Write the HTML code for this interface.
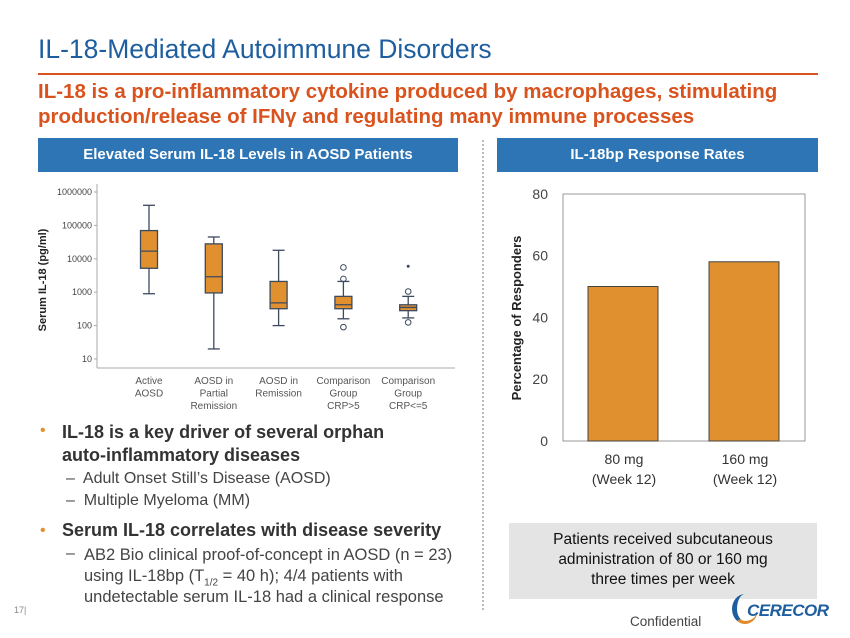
<!DOCTYPE html>
<html><head><meta charset="utf-8"><style>
body{margin:0;width:850px;height:638px;background:#fff;font-family:"Liberation Sans",sans-serif;position:relative;overflow:hidden}
.a{position:absolute}
.hdr{position:absolute;background:#2e75b6;color:#fff;font-weight:bold;font-size:15px;text-align:center;line-height:34px;top:138px;height:34px}
.ln{position:absolute;white-space:nowrap}
</style></head><body>
<div class="a" style="left:38px;top:34px;font-size:26.5px;color:#1f5e9e">IL-18-Mediated Autoimmune Disorders</div>
<div class="a" style="left:38px;top:73px;width:780px;height:2px;background:#d9531e"></div>
<div class="a" style="left:38px;top:79px;width:800px;font-size:20.5px;line-height:25px;font-weight:bold;color:#d9531e;white-space:nowrap">IL-18 is a pro-inflammatory cytokine produced by macrophages, stimulating<br>production/release of IFNγ and regulating many immune processes</div>
<div class="hdr" style="left:38px;width:420px">Elevated Serum IL-18 Levels in AOSD Patients</div>
<div class="hdr" style="left:497px;width:321px">IL-18bp Response Rates</div>
<div class="a" style="left:482px;top:140px;height:470px;border-left:2px dotted #bbb"></div>

<svg class="a" style="left:0;top:0" width="850" height="638">
<g id="box"></g>
<g id="bar"></g>
</svg>

<div class="a" style="left:0;top:0;width:480px;height:638px">
<div class="ln" style="left:40px;top:422px;color:#e0902e;font-size:16px">•</div>
<div class="ln" style="left:62px;top:421px;font-weight:bold;font-size:18px;color:#333;line-height:23px">IL-18 is a key driver of several orphan<br>auto-inflammatory diseases</div>
<div class="ln" style="left:66px;top:470px;font-size:16px;color:#444">–&nbsp; Adult Onset Still’s Disease (AOSD)</div>
<div class="ln" style="left:66px;top:492px;font-size:16px;color:#444">–&nbsp; Multiple Myeloma (MM)</div>
<div class="ln" style="left:40px;top:522px;color:#e0902e;font-size:16px">•</div>
<div class="ln" style="left:62px;top:520px;font-weight:bold;font-size:18px;color:#333">Serum IL-18 correlates with disease severity</div>
<div class="ln" style="left:66px;top:545px;font-size:16px;color:#444">–</div>
<div class="ln" style="left:84px;top:545px;font-size:16.5px;color:#444;line-height:21px">AB2 Bio clinical proof-of-concept in AOSD (n = 23)<br>using IL-18bp (T<sub style="font-size:10px;line-height:0">1/2</sub> = 40 h); 4/4 patients with<br>undetectable serum IL-18 had a clinical response</div>
</div>
<div class="a" style="left:509px;top:523px;width:308px;height:76px;background:#e4e4e4;text-align:center;font-size:15.5px;line-height:20px;color:#111;padding-top:7px;box-sizing:border-box">Patients received subcutaneous<br>administration of 80 or 160 mg<br>three times per week</div>
<div class="a" style="left:14px;top:605px;font-size:9px;color:#888">17|</div>
<div class="a" style="left:630px;top:614px;font-size:13.5px;color:#444">Confidential</div>
<div class="a" style="left:730px;top:590px;width:110px;height:42px">
<div style="position:absolute;left:2px;top:4px;width:26px;height:30px;border-radius:50%;border-left:5px solid #1f5e9e;border-bottom:3px solid #e08a2a;box-sizing:border-box"></div>
<div style="position:absolute;left:17px;top:11px;font-size:17px;font-weight:bold;font-style:italic;color:#1f5e9e;letter-spacing:-0.5px">CERECOR</div></div>

<script>
const NS="http://www.w3.org/2000/svg";
function mk(p,t,a,txt){const e=document.createElementNS(NS,t);for(const k in a)e.setAttribute(k,a[k]);if(txt!=null)e.textContent=txt;p.appendChild(e);return e;}
const boxCats=[["Active","AOSD"],["AOSD in","Partial","Remission"],["AOSD in","Remission"],["Comparison","Group","CRP>5"],["Comparison","Group","CRP<=5"]];
const boxMin=[900,20,100,160,170];
const boxQ1=[5200,950,320,320,280];
const boxMed=[17000,2900,480,420,350];
const boxQ3=[70000,28000,2100,750,420];
const boxMax=[400000,45000,18000,2100,750];
const boxOutliers=[[],[],[],[5500,2500,90],[1050,125]];
const boxExtremes=[[],[],[],[],[6000]];
const logTicks=[10,100,1000,10000,100000,1000000];
const yB=v=>359-(Math.log10(v)-1)*33.4;
const xB=i=>149+i*64.8;
const g=document.getElementById('box');
let e;
e=mk(g,'line',{x1:97,y1:184,x2:97,y2:368,stroke:'#aaa'});

e=mk(g,'line',{x1:97,y1:368,x2:455,y2:368,stroke:'#aaa'});

logTicks.forEach(t=>{e=mk(g,'text',{x:92,y:yB(t)+3,'font-size':9,'text-anchor':'end',fill:'#444'},String(t));

mk(g,'line',{x1:94,y1:yB(t),x2:97,y2:yB(t),stroke:'#aaa'});});
e=mk(g,'text',{transform:'translate(46,280) rotate(-90)','font-size':11,'font-weight':'bold','text-anchor':'middle',fill:'#222'},'Serum IL-18 (pg/ml)');

boxCats.forEach((c,i)=>{const x=xB(i),bs={stroke:'#3c4a5e','stroke-width':1.3};
mk(g,'line',Object.assign({x1:x,y1:yB(boxMax[i]),x2:x,y2:yB(boxMin[i])},bs));
mk(g,'line',Object.assign({x1:x-6,y1:yB(boxMax[i]),x2:x+6,y2:yB(boxMax[i])},bs));
mk(g,'line',Object.assign({x1:x-6,y1:yB(boxMin[i]),x2:x+6,y2:yB(boxMin[i])},bs));
e=mk(g,'rect',Object.assign({x:x-8.5,y:yB(boxQ3[i]),width:17,height:yB(boxQ1[i])-yB(boxQ3[i]),fill:'#e0902e'},bs));

mk(g,'line',Object.assign({x1:x-8.5,y1:yB(boxMed[i]),x2:x+8.5,y2:yB(boxMed[i])},bs));
boxOutliers[i].forEach(v=>{e=mk(g,'circle',{cx:x,cy:yB(v),r:2.8,fill:'none',stroke:'#3c4a5e'});
});
boxExtremes[i].forEach(v=>{e=mk(g,'circle',{cx:x,cy:yB(v),r:1.5,fill:'#3c4a5e'});
});
c.forEach((l,j)=>{e=mk(g,'text',{x:x,y:384+j*12.5,'font-size':10,'text-anchor':'middle',fill:'#555'},l);
});});
const barCats=[["80 mg","(Week 12)"],["160 mg","(Week 12)"]];
const barVals=[50,58];
const barTicks=[0,20,40,60,80];
const yR=v=>441-v*3.09;
const xR=i=>623+i*121;
const b=document.getElementById('bar');
mk(b,'rect',{x:563,y:194,width:242,height:247,fill:'none',stroke:'#999'});
barTicks.forEach(t=>{e=mk(b,'text',{x:548,y:yR(t)+5,'font-size':14,'text-anchor':'end',fill:'#444'},String(t));
});
e=mk(b,'text',{transform:'translate(521,318) rotate(-90)','font-size':13,'font-weight':'bold','text-anchor':'middle',fill:'#222'},'Percentage of Responders');

barVals.forEach((v,i)=>{e=mk(b,'rect',{x:xR(i)-35,y:yR(v),width:70,height:yR(0)-yR(v),fill:'#e0902e',stroke:'#444','stroke-width':1});

barCats[i].forEach((l,j)=>{e=mk(b,'text',{x:xR(i)+1,y:464+j*20,'font-size':14,'text-anchor':'middle',fill:'#333'},l);
});});
</script>
</body></html>
